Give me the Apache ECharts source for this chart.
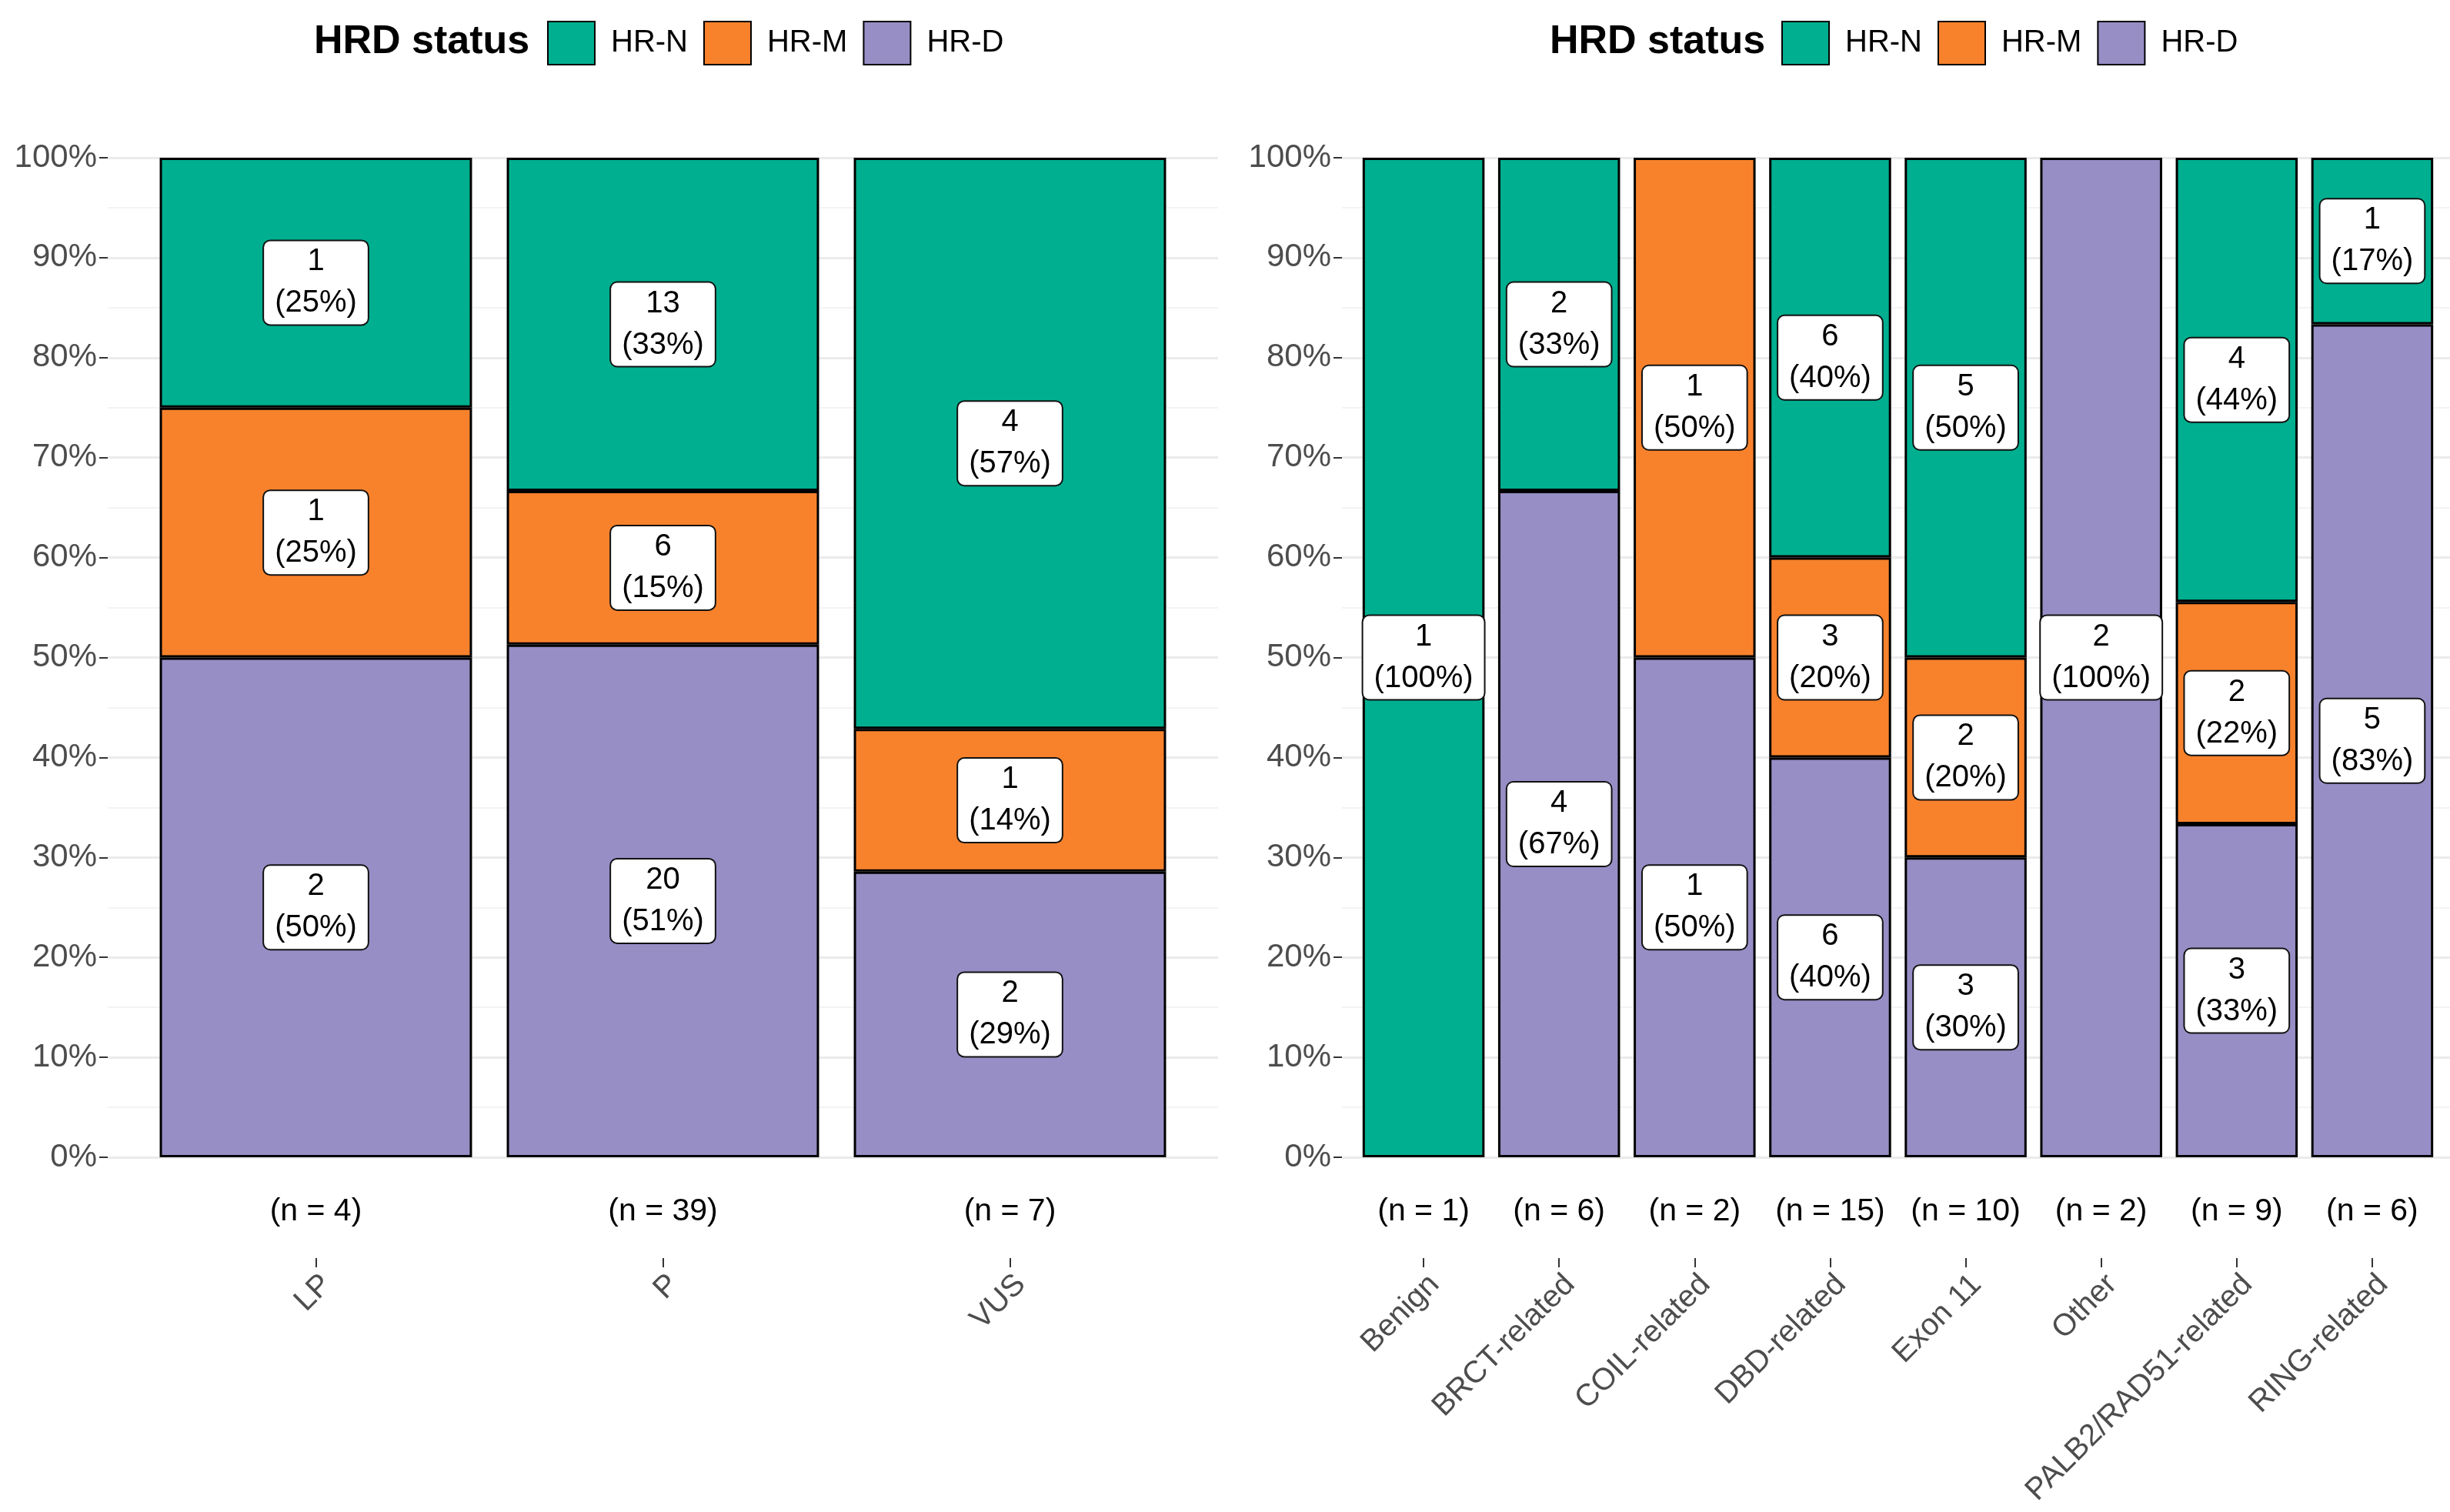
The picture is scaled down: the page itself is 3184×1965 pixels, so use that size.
<!DOCTYPE html>
<html>
<head>
<meta charset="utf-8">
<script src="https://cdn.jsdelivr.net/npm/echarts@6/dist/echarts.min.js"></script>
<style>
  html, body { margin: 0; padding: 0; background: #fff; }
  #chart { width: 3184px; height: 1965px; }
</style>
</head>
<body>
<div id="chart"></div>
<script>
// left panel: variant classification
var leftCats = ['LP', 'P', 'VUS'];
var leftHRN = [1, 13, 4];
var leftHRM = [1, 6, 1];
var leftHRD = [2, 20, 2];

// right panel: variant region
var rightCats = ['Benign', 'BRCT-related', 'COIL-related', 'DBD-related', 'Exon 11', 'Other', 'PALB2/RAD51-related', 'RING-related'];
var rightHRN = [1, 2, 0, 6, 5, 0, 4, 1];
var rightHRM = [0, 0, 1, 3, 2, 0, 2, 0];
var rightHRD = [0, 4, 1, 6, 3, 2, 3, 5];

var colors = { 'HR-N': '#00AF8F', 'HR-M': '#F8822C', 'HR-D': '#968EC5' };
var FONT = 'Liberation Sans, Arial, Helvetica, sans-serif';

function totals(a, b, c) {
  return a.map(function (v, i) { return v + b[i] + c[i]; });
}
var leftN = totals(leftHRN, leftHRM, leftHRD);
var rightN = totals(rightHRN, rightHRM, rightHRD);

function makeSeries(name, counts, ns, xi, yi, stack) {
  return {
    name: name,
    type: 'bar',
    stack: stack,
    xAxisIndex: xi,
    yAxisIndex: yi,
    barCategoryGap: '10%',
    data: counts.map(function (c, i) { return c ? c / ns[i] : '-'; }),
    itemStyle: { color: colors[name], borderColor: '#000', borderWidth: 3 },
    label: {
      show: true,
      position: 'inside',
      formatter: function (p) {
        var c = counts[p.dataIndex];
        return c + '\n(' + Math.round(100 * c / ns[p.dataIndex]) + '%)';
      },
      fontFamily: FONT,
      fontSize: 40,
      lineHeight: 54,
      color: '#000',
      backgroundColor: '#fff',
      borderColor: '#111',
      borderWidth: 2,
      borderRadius: 8,
      padding: [0, 14]
    },
    emphasis: { disabled: true }
  };
}

function bgYAxis(gi) {
  return {
    type: 'value', gridIndex: gi, min: 0, max: 1, interval: 0.1,
    axisLine: { show: false },
    axisTick: { show: true, length: 11, lineStyle: { color: '#333', width: 2 } },
    axisLabel: {
      margin: 14, fontFamily: FONT, fontSize: 42, color: '#4D4D4D',
      formatter: function (v) { return Math.round(v * 100) + '%'; }
    },
    splitLine: { show: true, lineStyle: { color: '#EBEBEB', width: 3 } },
    minorTick: { show: false, splitNumber: 2 },
    minorSplitLine: { show: true, lineStyle: { color: '#F3F3F3', width: 2 } }
  };
}

function hiddenYAxis(gi) {
  return { type: 'value', gridIndex: gi, min: 0, max: 1, show: false };
}

function nAxis(gi, cats, ns) {
  return {
    type: 'category', gridIndex: gi, data: cats, position: 'bottom',
    axisLine: { show: false }, axisTick: { show: false },
    axisLabel: {
      margin: 50, fontFamily: FONT, fontSize: 41, color: '#000', interval: 0,
      formatter: function (v, i) { return '(n = ' + ns[i] + ')'; }
    }
  };
}

function catAxis(gi, cats) {
  return {
    type: 'category', gridIndex: gi, data: cats, position: 'bottom', offset: 131,
    axisLine: { show: false },
    axisTick: { show: true, alignWithLabel: true, length: 12, lineStyle: { color: '#333', width: 2 } },
    axisLabel: {
      rotate: 45, margin: 14, verticalAlign: 'top',
      fontFamily: FONT, fontSize: 40, color: '#4D4D4D', interval: 0
    }
  };
}

var legendBase = {
  data: ['HR-N', 'HR-M', 'HR-D'],
  top: 27,
  padding: 0,
  itemWidth: 61,
  itemHeight: 56,
  itemGap: 20,
  icon: 'rect',
  selectedMode: false,
  textStyle: { fontFamily: FONT, fontSize: 40, color: '#000', padding: [0, 0, 0, 16] }
};

function grid(left, width) {
  return { left: left, width: width, top: 205, height: 1299, containLabel: false, outerBoundsMode: 'none' };
}

var chart = echarts.init(document.getElementById('chart'));
var option = {
  backgroundColor: '#fff',
  animation: false,
  graphic: [
    { type: 'text', x: 408, y: 55, style: { text: 'HRD status', fontFamily: FONT, fontSize: 52, fontWeight: 'bold', fill: '#000', verticalAlign: 'middle' } },
    { type: 'text', x: 2014, y: 55, style: { text: 'HRD status', fontFamily: FONT, fontSize: 52, fontWeight: 'bold', fill: '#000', verticalAlign: 'middle' } }
  ],
  legend: [
    Object.assign({ left: 711 }, legendBase),
    Object.assign({ left: 2315 }, legendBase)
  ],
  grid: [
    grid(140, 1443),   // left background
    grid(185, 1353),   // left bars
    grid(1744, 1440),  // right background
    grid(1762, 1409)   // right bars
  ],
  xAxis: [
    { type: 'value', gridIndex: 0, show: false, min: 0, max: 1 },
    nAxis(1, leftCats, leftN),
    catAxis(1, leftCats),
    { type: 'value', gridIndex: 2, show: false, min: 0, max: 1 },
    nAxis(3, rightCats, rightN),
    catAxis(3, rightCats)
  ],
  yAxis: [bgYAxis(0), hiddenYAxis(1), bgYAxis(2), hiddenYAxis(3)],
  series: [
    makeSeries('HR-D', leftHRD, leftN, 1, 1, 'left'),
    makeSeries('HR-M', leftHRM, leftN, 1, 1, 'left'),
    makeSeries('HR-N', leftHRN, leftN, 1, 1, 'left'),
    makeSeries('HR-D', rightHRD, rightN, 4, 3, 'right'),
    makeSeries('HR-M', rightHRM, rightN, 4, 3, 'right'),
    makeSeries('HR-N', rightHRN, rightN, 4, 3, 'right')
  ]
};
chart.setOption(option);
</script>
</body>
</html>
